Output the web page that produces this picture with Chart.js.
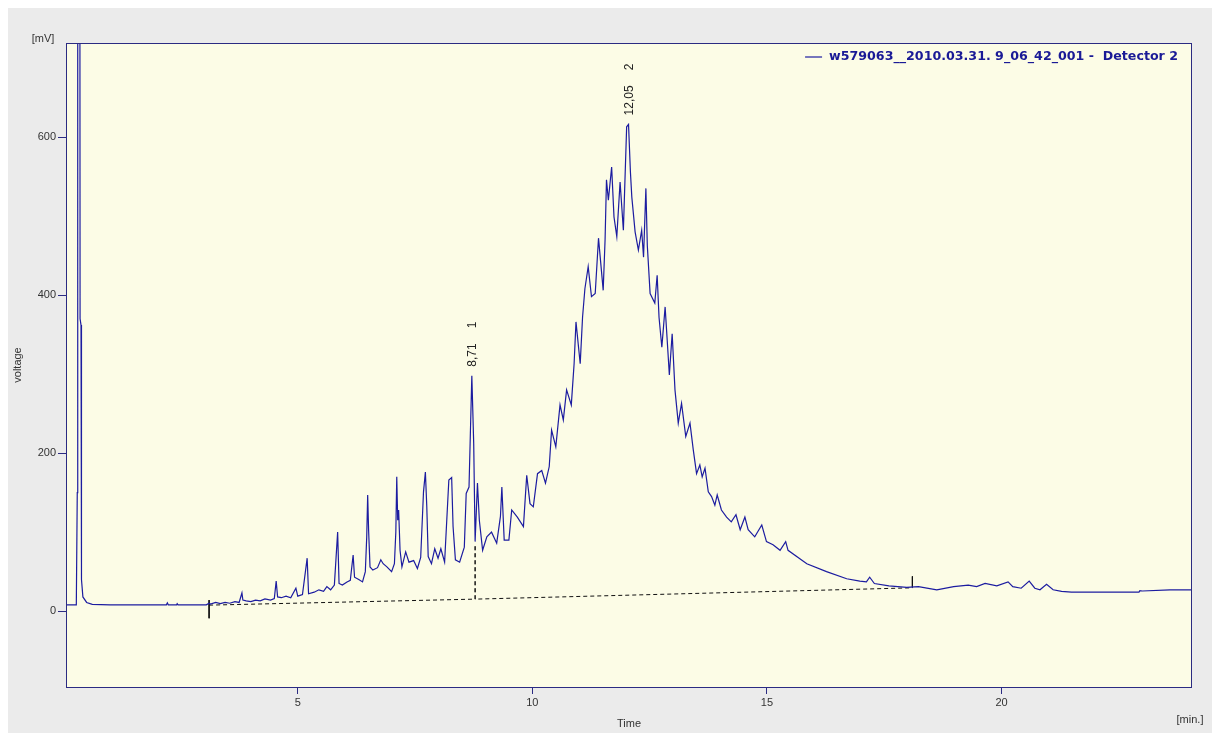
<!DOCTYPE html>
<html>
<head>
<meta charset="utf-8">
<script src="https://cdn.jsdelivr.net/npm/chart.js@4"></script>
<style>
  body { margin: 0; background: #ffffff; }
  #wrap { width: 1213px; height: 734px; }
</style>
</head>
<body>
<div id="wrap"><canvas id="chart" width="1213" height="734"></canvas></div>
<script>
'use strict';

// retention time [min]
let times = [
  0.06, 0.28, 0.30, 0.31, 0.35, 0.36, 0.38, 0.39, 0.42, 0.50, 0.62, 1.00,
  2.20, 2.22, 2.24, 2.42, 2.43, 2.45, 3.05, 3.11, 3.14, 3.25, 3.35, 3.45,
  3.55, 3.66, 3.75, 3.81, 3.83, 3.90, 4.00, 4.10, 4.20, 4.30, 4.42, 4.50,
  4.54, 4.57, 4.65, 4.75, 4.85, 4.96, 5.00, 5.10, 5.20, 5.23, 5.35, 5.45,
  5.55, 5.62, 5.70, 5.78, 5.85, 5.88, 5.95, 6.05, 6.12, 6.18, 6.21, 6.30,
  6.38, 6.44, 6.47, 6.49, 6.51, 6.54, 6.60, 6.70, 6.77, 6.82, 6.90, 7.00,
  7.06, 7.09, 7.11, 7.13, 7.15, 7.18, 7.22, 7.30, 7.37, 7.47, 7.55, 7.62,
  7.68, 7.72, 7.75, 7.78, 7.85, 7.92, 7.99, 8.05, 8.13, 8.22, 8.28, 8.31,
  8.36, 8.45, 8.55, 8.59, 8.65, 8.71, 8.75, 8.78, 8.83, 8.87, 8.94, 9.03,
  9.13, 9.24, 9.32, 9.35, 9.40, 9.50, 9.56, 9.68, 9.81, 9.88, 9.95, 10.02,
  10.11, 10.20, 10.28, 10.36, 10.41, 10.50, 10.59, 10.66, 10.73, 10.83, 10.89, 10.93,
  11.02, 11.07, 11.12, 11.19, 11.26, 11.34, 11.41, 11.51, 11.55, 11.58, 11.62, 11.69,
  11.74, 11.80, 11.87, 11.94, 12.01, 12.05, 12.09, 12.12, 12.16, 12.19, 12.26, 12.33,
  12.37, 12.42, 12.45, 12.51, 12.61, 12.66, 12.70, 12.76, 12.83, 12.87, 12.92, 12.98,
  13.04, 13.11, 13.18, 13.27, 13.36, 13.43, 13.50, 13.57, 13.62, 13.68, 13.75, 13.82,
  13.89, 13.94, 14.03, 14.14, 14.24, 14.34, 14.43, 14.53, 14.60, 14.74, 14.89, 14.99,
  15.13, 15.28, 15.40, 15.45, 15.85, 16.27, 16.70, 16.98, 17.12, 17.19, 17.29, 17.60,
  17.98, 18.23, 18.62, 18.98, 19.29, 19.47, 19.65, 19.90, 20.14, 20.24, 20.42, 20.59,
  20.71, 20.82, 20.96, 21.10, 21.28, 21.49, 22.93, 22.95, 23.00, 23.59, 24.06
];

// detector signal [mV]
let signal = [
  8, 8, 150, 1500, 1500, 370, 362, 40, 18, 11, 8.5, 8,
  8, 10.5, 8, 8, 9.5, 8, 8, 10, 9, 11, 9.5, 11,
  10, 12, 11, 23, 14, 13, 12, 14, 13, 15.5, 14, 16,
  38, 18, 17, 19, 17, 29, 19, 21, 67, 22, 24, 27,
  25, 31, 27, 33, 100, 35, 33, 37, 39, 71, 43, 40,
  37, 50, 94, 147, 102, 56, 52, 55, 65, 60, 56, 50,
  60, 100, 170, 115, 128, 77, 56, 75, 62, 64, 54, 68,
  151, 176, 132, 69, 60, 79, 67, 79, 62, 166, 169, 107,
  65, 62, 81, 149, 157, 298, 212, 88, 162, 115, 77, 94,
  100, 86, 120, 157, 90, 90, 128, 119, 107, 172, 136, 132,
  174, 178, 162, 183, 229, 208, 261, 242, 280, 261, 313, 366,
  313, 372, 408, 436, 398, 402, 472, 406, 470, 546, 520, 562,
  499, 474, 543, 482, 613, 616, 556, 524, 499, 480, 457, 482,
  448, 535, 463, 402, 390, 425, 372, 334, 385, 347, 299, 351,
  280, 238, 263, 221, 238, 204, 174, 185, 170, 181, 151, 145,
  134, 147, 128, 119, 113, 122, 103, 119, 103, 94, 109, 88,
  84, 77, 88, 77, 60, 50, 41, 38, 37, 43, 35, 32,
  30, 31, 27, 31, 33, 31, 35, 32, 37, 31, 29, 38,
  29, 27, 34, 27, 25, 24, 24, 26, 25.5, 27, 27
];

// integration baseline (dashed) incl. drop line at peak 1
let baseTimes = [3.11, 8.78, 8.78, 8.78, 18.10];
let baseValues = [7.6, 15.2, 84, 15.2, 29.5];

// integration start / end markers
let startMarkTimes = [3.11, 3.11];
let startMarkValues = [14, -9];
let endMarkTimes = [18.10, 18.10];
let endMarkValues = [44, 30];

// labelled peaks
let peakTimes = [8.71, 12.05];
let peakHeights = [298, 616];
let peakLabels = ['8,71', '12,05'];
let peakIds = ['1', '2'];

let xTickValues = [5, 10, 15, 20];
let yTickValues = [0, 200, 400, 600];

let seriesName = 'w579063__2010.03.31. 9_06_42_001 -  Detector 2';

let lineColor = '#1c1ca0';
let frameColor = '#2b2b82';

function toPoints(xs, ys) {
  let pts = [];
  for (let i = 0; i < xs.length; i++) {
    pts.push({ x: xs[i], y: ys[i] });
  }
  return pts;
}

let decorPlugin = {
  id: 'decor',
  beforeDraw(chart) {
    let ctx = chart.ctx;
    let a = chart.chartArea;
    ctx.save();
    ctx.fillStyle = '#ffffff';
    ctx.fillRect(0, 0, chart.width, chart.height);
    ctx.fillStyle = '#ebebeb';
    ctx.fillRect(8, 8, chart.width - 9, chart.height - 9);
    ctx.fillStyle = '#fcfce6';
    ctx.fillRect(a.left, a.top, a.right - a.left, a.bottom - a.top);
    ctx.restore();
  },
  afterDraw(chart) {
    let ctx = chart.ctx;
    let a = chart.chartArea;
    let xs = chart.scales.x;
    let ys = chart.scales.y;
    ctx.save();

    // frame
    ctx.strokeStyle = frameColor;
    ctx.lineWidth = 1;
    ctx.strokeRect(a.left + 0.5, a.top + 0.5, a.right - a.left - 1, a.bottom - a.top);

    // units
    ctx.fillStyle = '#333333';
    ctx.font = '11px "Liberation Sans"';
    ctx.textBaseline = 'middle';
    ctx.textAlign = 'center';
    ctx.fillText('[mV]', 43, 39);
    ctx.fillText('[min.]', 1190, 720);

    // peak labels
    ctx.font = '12px "Liberation Sans"';
    ctx.fillStyle = '#222222';
    for (let i = 0; i < peakTimes.length; i++) {
      let px = xs.getPixelForValue(peakTimes[i]);
      let py = ys.getPixelForValue(peakHeights[i]);
      ctx.save();
      ctx.translate(px + 1, py - 9);
      ctx.rotate(-Math.PI / 2);
      ctx.textAlign = 'left';
      ctx.textBaseline = 'middle';
      ctx.fillText(peakLabels[i], 0, 0);
      let w = ctx.measureText(peakLabels[i]).width;
      ctx.fillText(peakIds[i], w + 15, 0);
      ctx.restore();
    }

    // legend
    let size = 12;
    ctx.font = 'bold ' + size + 'px "DejaVu Sans"';
    let tw = ctx.measureText(seriesName).width;
    size = size * 349 / tw;
    ctx.font = 'bold ' + size.toFixed(2) + 'px "DejaVu Sans"';
    tw = ctx.measureText(seriesName).width;
    let textRight = a.right - 14;
    let textLeft = textRight - tw;
    let ly = a.top + 14;
    ctx.strokeStyle = lineColor;
    ctx.lineWidth = 1.2;
    ctx.beginPath();
    ctx.moveTo(textLeft - 24, ly);
    ctx.lineTo(textLeft - 7, ly);
    ctx.stroke();
    ctx.fillStyle = '#1a1a96';
    ctx.textAlign = 'left';
    ctx.textBaseline = 'middle';
    ctx.fillText(seriesName, textLeft, ly);

    ctx.restore();
  }
};

let tickFont = { family: 'Liberation Sans', size: 11 };

let chartObj = {
  type: 'line',
  data: {
    datasets: [
      {
        label: seriesName,
        data: toPoints(times, signal),
        borderColor: lineColor,
        borderWidth: 1.2,
        pointRadius: 0,
        tension: 0
      },
      {
        label: 'baseline',
        data: toPoints(baseTimes, baseValues),
        borderColor: '#111111',
        borderWidth: 1,
        borderDash: [4, 3],
        pointRadius: 0,
        tension: 0
      },
      {
        label: 'start',
        data: toPoints(startMarkTimes, startMarkValues),
        borderColor: '#111111',
        borderWidth: 1,
        pointRadius: 0
      },
      {
        label: 'end',
        data: toPoints(endMarkTimes, endMarkValues),
        borderColor: '#111111',
        borderWidth: 1,
        pointRadius: 0
      }
    ]
  },
  options: {
    responsive: false,
    animation: false,
    layout: { padding: { left: 0, right: 21, top: 43, bottom: 0 } },
    plugins: {
      legend: { display: false },
      tooltip: { enabled: false }
    },
    scales: {
      x: {
        type: 'linear',
        min: 0.06,
        max: 24.06,
        afterBuildTicks(scale) {
          scale.ticks = xTickValues.map(v => ({ value: v }));
        },
        afterFit(scale) {
          scale.height = 47;
        },
        border: { display: false },
        grid: { drawOnChartArea: false, drawTicks: true, tickLength: 7, color: frameColor },
        ticks: { padding: 2, color: '#333333', font: tickFont, maxRotation: 0, autoSkip: false },
        title: { display: true, text: 'Time', color: '#333333', font: tickFont, padding: { top: 0, bottom: 3 } }
      },
      y: {
        min: -96,
        max: 719,
        afterBuildTicks(scale) {
          scale.ticks = yTickValues.map(v => ({ value: v }));
        },
        afterFit(scale) {
          scale.width = 66;
        },
        border: { display: false },
        grid: { drawOnChartArea: false, drawTicks: true, tickLength: 8, color: frameColor },
        ticks: { padding: 2, color: '#333333', font: tickFont },
        title: { display: true, text: 'voltage', color: '#333333', font: tickFont, padding: { top: 11, bottom: 0 } }
      }
    }
  },
  plugins: [decorPlugin]
};

new Chart(document.getElementById('chart'), chartObj);
</script>
</body>
</html>
